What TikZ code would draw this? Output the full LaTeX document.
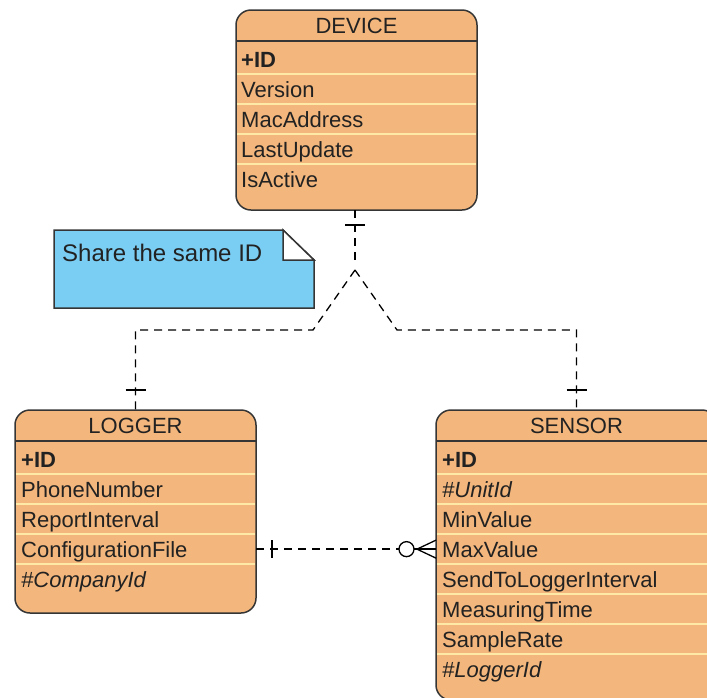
\documentclass[tikz,border=0pt]{standalone}
\usepackage{fontspec}
\setmainfont{Liberation Sans}
\usetikzlibrary{calc}

\definecolor{entityfill}{HTML}{F3B67C}
\definecolor{rowline}{HTML}{FFE9A6}
\definecolor{edgegray}{HTML}{353535}
\definecolor{notefill}{HTML}{7BCEF3}
\definecolor{inkgray}{HTML}{222222}

\begin{document}
\begin{tikzpicture}[x=1pt,y=-1pt,
  entity/.style={draw=edgegray, line width=1.5pt, fill=entityfill,
    rounded corners=15pt, inner sep=0pt, outer sep=0pt},
  txt/.style={font=\fontsize{22}{26}\selectfont, text=inkgray, inner sep=0pt},
  title/.style={txt, anchor=base},
  field/.style={txt, anchor=base west},
  keyfield/.style={field, font=\fontsize{22}{26}\selectfont\bfseries},
  fkfield/.style={field, font=\fontsize{22}{26}\selectfont\itshape},
  notetext/.style={field, font=\fontsize{24}{28}\selectfont},
  rowsep/.style={draw=rowline, line width=2pt},
  headrule/.style={draw=edgegray, line width=1.8pt},
  rel/.style={draw=black, line width=1.3pt, dash pattern=on 8pt off 6pt},
  solidrel/.style={draw=black, line width=1.3pt},
]
\useasboundingbox (0,0) rectangle (707,697);
\clip (0,0) rectangle (707,697);

% ---------- DEVICE ----------
\node[entity, minimum width=241pt, minimum height=200pt] (device) at (356.5,110) {};
\foreach \d in {64,94,124,154}
  \draw[rowsep] ($(device.north west)+(0.8,\d)$) -- ($(device.north east)+(-0.8,\d)$);
\draw[headrule] ($(device.north west)+(0,31)$) -- ($(device.north east)+(0,31)$);
\node[title] (dv-title) at (356.5,33) {DEVICE};
\node[keyfield] (dv-id)   at (241,67)  {+ID};
\node[field]    (dv-ver)  at (241,97)  {Version};
\node[field]    (dv-mac)  at (241,127) {MacAddress};
\node[field]    (dv-upd)  at (241,157) {LastUpdate};
\node[field]    (dv-act)  at (241,187) {IsActive};

% ---------- LOGGER ----------
\node[entity, minimum width=241pt, minimum height=203pt] (logger) at (135.5,511.5) {};
\foreach \d in {64,94,124,154}
  \draw[rowsep] ($(logger.north west)+(0.8,\d)$) -- ($(logger.north east)+(-0.8,\d)$);
\draw[headrule] ($(logger.north west)+(0,31)$) -- ($(logger.north east)+(0,31)$);
\node[title] (lg-title) at (135.5,433) {LOGGER};
\node[keyfield] (lg-id)    at (21,467) {+ID};
\node[field]    (lg-phone) at (21,497) {PhoneNumber};
\node[field]    (lg-rep)   at (21,527) {ReportInterval};
\node[field]    (lg-conf)  at (21,557) {ConfigurationFile};
\node[fkfield]  (lg-comp)  at (21,587) {\#CompanyId};

% ---------- SENSOR ----------
\node[entity, minimum width=281pt, minimum height=290pt] (sensor) at (576.5,555) {};
\foreach \d in {64,94,124,154,184,214,244}
  \draw[rowsep] ($(sensor.north west)+(0.8,\d)$) -- ($(sensor.north east)+(-0.8,\d)$);
\draw[headrule] ($(sensor.north west)+(0,31)$) -- ($(sensor.north east)+(0,31)$);
\node[title] (sn-title) at (576.5,433) {SENSOR};
\node[keyfield] (sn-id)   at (442,467) {+ID};
\node[fkfield]  (sn-unit) at (442,497) {\#UnitId};
\node[field]    (sn-min)  at (442,527) {MinValue};
\node[field]    (sn-max)  at (442,557) {MaxValue};
\node[field]    (sn-send) at (442,587) {SendToLoggerInterval};
\node[field]    (sn-meas) at (442,617) {MeasuringTime};
\node[field]    (sn-rate) at (442,647) {SampleRate};
\node[fkfield]  (sn-log)  at (442,677) {\#LoggerId};

% ---------- note ----------
\path[draw=edgegray, line width=1.5pt, fill=notefill]
  (54,230) -- (283,230) -- (314,260) -- (314,308) -- (54,308) -- cycle;
\path[draw=edgegray, line width=1.5pt, fill=white]
  (283,230) -- (283,260) -- (314,260) -- cycle;
\node[notetext] (notelabel) at (62,261) {Share the same ID};

% ---------- subtype connector ----------
\coordinate (stem)   at ($(device.south)+(-1.5,52)$);
\coordinate (fork)   at ($(device.south)+(-1.5,60)$);
\coordinate (lbend1) at (313,330);
\coordinate (rbend1) at (397,330);
\coordinate (lbend2) at ($(logger.north)+(0,-80)$);
\coordinate (rbend2) at ($(sensor.north)+(0,-80)$);

\draw[rel] ($(device.south)+(-1.5,0)$) -- (stem);
\draw[solidrel] ($(device.south)+(-11.5,15)$) -- ($(device.south)+(8.5,15)$);
\draw[rel] (fork) -- (lbend1) -- (lbend2) -- (logger.north);
\draw[rel] (fork) -- (rbend1) -- (rbend2) -- (sensor.north);
\draw[solidrel] ($(logger.north)+(-10,-20)$) -- ($(logger.north)+(10,-20)$);
\draw[solidrel] ($(sensor.north)+(-10,-20)$) -- ($(sensor.north)+(10,-20)$);

% ---------- LOGGER 1 -- 0..* SENSOR ----------
\coordinate (lsL) at (sn-max -| logger.east);
\coordinate (lsR) at (sn-max -| sensor.west);
\draw[rel] (lsL) -- ($(lsR)+(-37,0)$);
\draw[solidrel] ($(lsL)+(16,-9)$) -- ($(lsL)+(16,9)$);
\draw[solidrel] ($(lsR)+(-29.5,0)$) circle (7.5pt);
\draw[solidrel] ($(lsR)+(-22,0)$) -- (lsR);
\draw[solidrel] ($(lsR)+(0,-9)$) -- ($(lsR)+(-19,0)$) -- ($(lsR)+(0,9)$);
\end{tikzpicture}
\end{document}
